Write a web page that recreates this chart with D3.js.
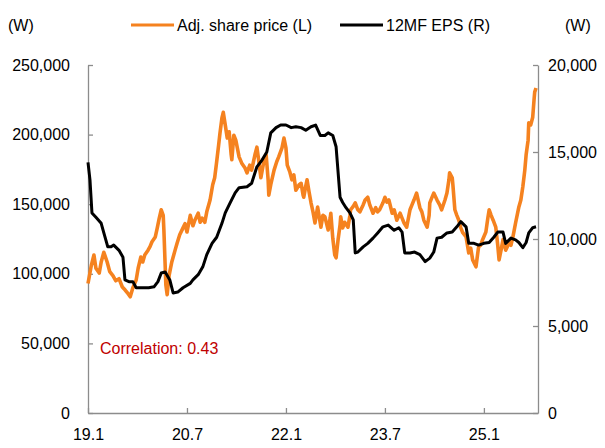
<!DOCTYPE html>
<html>
<head>
<meta charset="utf-8">
<script src="https://cdn.jsdelivr.net/npm/d3@7"></script>
<style>
  body { margin: 0; background: #fff; }
  text { font-family: "Liberation Sans", Arial, sans-serif; }
</style>
</head>
<body>
<div id="chart"></div>
<script>
// Chart size
const WIDTH = 605, HEIGHT = 448;
const margin = {top: 65, right: 67, bottom: 35, left: 88};

// x axis ticks (decimal years) and their labels
const yearTicks = [2019, 2020.5, 2022, 2023.5, 2025];
const yearTickLabels = ["19.1", "20.7", "22.1", "23.7", "25.1"];
const yearEnd = 2025.82;

// Axis ticks
const priceTicks = [0, 50000, 100000, 150000, 200000, 250000];
const epsTicks = [0, 5000, 10000, 15000, 20000];

// Adjusted share price (L)
const priceYears = [
  2019.00, 2019.05, 2019.09, 2019.12, 2019.17, 2019.20, 2019.24, 2019.29, 2019.33, 2019.38,
  2019.42, 2019.47, 2019.52, 2019.56, 2019.61, 2019.64, 2019.68, 2019.73, 2019.76, 2019.80,
  2019.83, 2019.86, 2019.91, 2019.94, 2019.97, 2020.02, 2020.05, 2020.08, 2020.11, 2020.14,
  2020.15, 2020.18, 2020.20, 2020.23, 2020.27, 2020.32, 2020.35, 2020.39, 2020.44, 2020.47,
  2020.50, 2020.55, 2020.59, 2020.62, 2020.67, 2020.70, 2020.73, 2020.77, 2020.80, 2020.85,
  2020.89, 2020.92, 2020.95, 2020.98, 2021.00, 2021.03, 2021.05, 2021.08, 2021.11, 2021.14,
  2021.17, 2021.18, 2021.21, 2021.24, 2021.29, 2021.33, 2021.38, 2021.41, 2021.45, 2021.48,
  2021.53, 2021.56, 2021.59, 2021.62, 2021.67, 2021.70, 2021.73, 2021.74, 2021.77, 2021.82,
  2021.86, 2021.89, 2021.94, 2021.97, 2022.00, 2022.02, 2022.06, 2022.09, 2022.12, 2022.15,
  2022.20, 2022.23, 2022.26, 2022.27, 2022.30, 2022.32, 2022.35, 2022.38, 2022.41, 2022.44,
  2022.48, 2022.53, 2022.56, 2022.59, 2022.64, 2022.67, 2022.68, 2022.71, 2022.74, 2022.76,
  2022.79, 2022.82, 2022.83, 2022.86, 2022.89, 2022.94, 2022.97, 2022.98, 2023.02, 2023.05,
  2023.09, 2023.12, 2023.17, 2023.20, 2023.24, 2023.27, 2023.32, 2023.36, 2023.39, 2023.42,
  2023.47, 2023.50, 2023.53, 2023.56, 2023.61, 2023.64, 2023.68, 2023.73, 2023.76, 2023.79,
  2023.83, 2023.88, 2023.91, 2023.94, 2023.98, 2024.03, 2024.06, 2024.09, 2024.14, 2024.17,
  2024.18, 2024.21, 2024.24, 2024.29, 2024.33, 2024.36, 2024.41, 2024.44, 2024.47, 2024.48,
  2024.52, 2024.53, 2024.56, 2024.59, 2024.62, 2024.65, 2024.68, 2024.73, 2024.77, 2024.80,
  2024.83, 2024.88, 2024.92, 2024.95, 2024.98, 2025.03, 2025.06, 2025.08, 2025.11, 2025.14,
  2025.18, 2025.21, 2025.23, 2025.26, 2025.29, 2025.33, 2025.38, 2025.41, 2025.44, 2025.48,
  2025.53, 2025.56, 2025.59, 2025.62, 2025.64, 2025.67, 2025.68, 2025.71, 2025.74, 2025.76,
  2025.77, 2025.79
];
const priceValues = [
  93000, 106000, 113500, 104000, 100500, 108500, 115500, 108500, 101500, 98500,
  95000, 96500, 90500, 88500, 85500, 83500, 90000, 95500, 104000, 112000,
  108500, 113500, 117000, 119500, 123000, 126500, 133000, 140000, 146000, 142000,
  131500, 92000, 85000, 99000, 108500, 117000, 122000, 128000, 133000, 136000,
  130000, 142000, 134500, 138500, 143500, 137000, 140000, 137000, 144500, 153000,
  164000, 169000, 180500, 192500, 201000, 212000, 216000, 207000, 197500, 202000,
  185500, 182000, 199500, 196000, 184000, 179500, 176000, 172500, 178000, 174500,
  185500, 191000, 180500, 169000, 182000, 185500, 167500, 156500, 164000, 174500,
  180500, 184000, 190500, 197500, 190500, 178000, 173000, 167500, 171000, 160000,
  164000, 165000, 156500, 155000, 163000, 167500, 159000, 151000, 144500, 136500,
  148000, 133500, 142000, 141000, 131500, 140000, 143500, 125500, 113500, 111500,
  124500, 135000, 141000, 133000, 137000, 133500, 142000, 146000, 148500, 151000,
  146000, 144500, 149500, 153000, 155000, 149500, 143500, 147500, 144500, 146000,
  151000, 155000, 151500, 153000, 143500, 146000, 138500, 143500, 140000, 136500,
  133500, 146000, 149500, 153000, 158000, 147500, 144500, 138500, 133500, 142000,
  151000, 154500, 158000, 153000, 149500, 146000, 153000, 158000, 167500, 172500,
  169000, 164000, 146000, 142000, 138500, 133000, 129500, 126500, 115000, 118500,
  110000, 105000, 119500, 120500, 124500, 130000, 140000, 146000, 142000, 138500,
  133500, 120500, 110000, 117000, 124500, 117000, 122000, 120500, 126500, 136500,
  148000, 153000, 162500, 174500, 185500, 196000, 208500, 207000, 212500, 225000,
  230500, 233500
];

// 12-month forward EPS (R)
const epsYears = [
  2019.00, 2019.03, 2019.06, 2019.12, 2019.20, 2019.24, 2019.30, 2019.35, 2019.39, 2019.47,
  2019.53, 2019.56, 2019.62, 2019.68, 2019.73, 2019.83, 2019.92, 2020.00, 2020.06, 2020.11,
  2020.17, 2020.24, 2020.29, 2020.36, 2020.44, 2020.55, 2020.59, 2020.67, 2020.74, 2020.80,
  2020.88, 2020.95, 2021.03, 2021.08, 2021.15, 2021.23, 2021.29, 2021.41, 2021.48, 2021.56,
  2021.64, 2021.71, 2021.77, 2021.85, 2021.92, 2022.00, 2022.08, 2022.15, 2022.23, 2022.30,
  2022.38, 2022.45, 2022.52, 2022.59, 2022.64, 2022.71, 2022.76, 2022.82, 2022.86, 2022.91,
  2022.97, 2023.02, 2023.05, 2023.09, 2023.17, 2023.24, 2023.32, 2023.39, 2023.47, 2023.55,
  2023.64, 2023.71, 2023.76, 2023.80, 2023.88, 2023.95, 2024.03, 2024.11, 2024.18, 2024.24,
  2024.29, 2024.36, 2024.44, 2024.52, 2024.59, 2024.65, 2024.73, 2024.77, 2024.85, 2024.92,
  2025.00, 2025.08, 2025.15, 2025.21, 2025.29, 2025.33, 2025.41, 2025.48, 2025.53, 2025.59,
  2025.64, 2025.68, 2025.74, 2025.79
];
const epsValues = [
  14400, 13400, 11500, 11250, 10900, 10350, 9550, 9550, 9650, 9350,
  8950, 7650, 7550, 7550, 7200, 7200, 7200, 7250, 7550, 8050,
  8100, 7650, 6900, 6950, 7200, 7450, 7650, 7950, 8400, 9100,
  9750, 10100, 10900, 11500, 12050, 12650, 12950, 13000, 13200, 14150,
  14550, 15000, 16100, 16400, 16550, 16550, 16400, 16450, 16400, 16250,
  16450, 16550, 15950, 15950, 16100, 15950, 15300, 12400, 12100, 11800,
  11500, 11100, 9200, 9250, 9550, 9750, 10050, 10350, 10700, 10800,
  10500, 10650, 10400, 9200, 9200, 9250, 9100, 8700, 8900, 9250,
  10050, 10100, 10350, 10400, 10700, 11000, 10700, 9750, 9750, 9650,
  9750, 9800, 10100, 10400, 10400, 9750, 10050, 9950, 9800, 9500,
  9800, 10350, 10650, 10700
];

const priceData = priceYears.map((t, i) => ({t: t, v: priceValues[i]}));
const epsData = epsYears.map((t, i) => ({t: t, v: epsValues[i]}));

let svg = d3.select("#chart")
    .append("svg")
    .attr("width", WIDTH)
    .attr("height", HEIGHT);

// Scales
let x = d3.scaleLinear()
    .domain([2019, yearEnd])
    .range([margin.left, WIDTH - margin.right]);

let yLeft = d3.scaleLinear()
    .domain([0, 250000])
    .range([HEIGHT - margin.bottom, margin.top]);

let yRight = d3.scaleLinear()
    .domain([0, 20000])
    .range([HEIGHT - margin.bottom, margin.top]);

const AXIS_COLOR = "#8c8c8c";

// Left axis (share price)
let leftAxis = svg.append("g")
    .attr("transform", `translate(${margin.left}, 0)`)
    .call(d3.axisLeft(yLeft)
        .tickValues(priceTicks)
        .tickFormat(d3.format(","))
        .tickSize(-5)
        .tickSizeOuter(0)
        .tickPadding(18));

// Right axis (EPS)
let rightAxis = svg.append("g")
    .attr("transform", `translate(${WIDTH - margin.right}, 0)`)
    .call(d3.axisRight(yRight)
        .tickValues(epsTicks)
        .tickFormat(d3.format(","))
        .tickSize(-5)
        .tickSizeOuter(0)
        .tickPadding(10));

// Bottom axis (time)
let bottomAxis = svg.append("g")
    .attr("transform", `translate(0, ${HEIGHT - margin.bottom})`)
    .call(d3.axisBottom(x)
        .tickValues(yearTicks)
        .tickFormat((d, i) => yearTickLabels[i])
        .tickSize(-5)
        .tickSizeOuter(0)
        .tickPadding(16));

[leftAxis, rightAxis, bottomAxis].forEach(function(g) {
    g.select(".domain").attr("stroke", AXIS_COLOR).attr("stroke-width", 1.3);
    g.selectAll(".tick line").attr("stroke", AXIS_COLOR).attr("stroke-width", 1.3);
    g.selectAll(".tick text")
        .attr("fill", "#000")
        .style("font-size", "16px")
        .style("font-family", "Liberation Sans");
});

// Lines
let priceLine = d3.line()
    .x(d => x(d.t))
    .y(d => yLeft(d.v));

let epsLine = d3.line()
    .x(d => x(d.t))
    .y(d => yRight(d.v));

svg.append("path")
    .datum(priceData)
    .attr("fill", "none")
    .attr("stroke", "#F5821F")
    .attr("stroke-width", 3.6)
    .attr("stroke-linejoin", "round")
    .attr("d", priceLine);

svg.append("path")
    .datum(epsData)
    .attr("fill", "none")
    .attr("stroke", "#000")
    .attr("stroke-width", 3)
    .attr("stroke-linejoin", "round")
    .attr("d", epsLine);

// Unit labels
svg.append("text")
    .attr("x", 8)
    .attr("y", 31)
    .style("font-size", "16px")
    .text("(W)");

svg.append("text")
    .attr("x", 565)
    .attr("y", 31)
    .style("font-size", "16px")
    .text("(W)");

// Legend
const legendItems = [
    {label: "Adj. share price (L)", color: "#F5821F", x: 131},
    {label: "12MF EPS (R)", color: "#000", x: 340}
];

legendItems.forEach(function(item) {
    svg.append("line")
        .attr("x1", item.x)
        .attr("x2", item.x + 43)
        .attr("y1", 25)
        .attr("y2", 25)
        .attr("stroke", item.color)
        .attr("stroke-width", 3);
    svg.append("text")
        .attr("x", item.x + 46)
        .attr("y", 31)
        .style("font-size", "16px")
        .text(item.label);
});

// Correlation note
svg.append("text")
    .attr("x", 100)
    .attr("y", 354)
    .attr("fill", "#C00000")
    .style("font-size", "16px")
    .text("Correlation: 0.43");
</script>
</body>
</html>
